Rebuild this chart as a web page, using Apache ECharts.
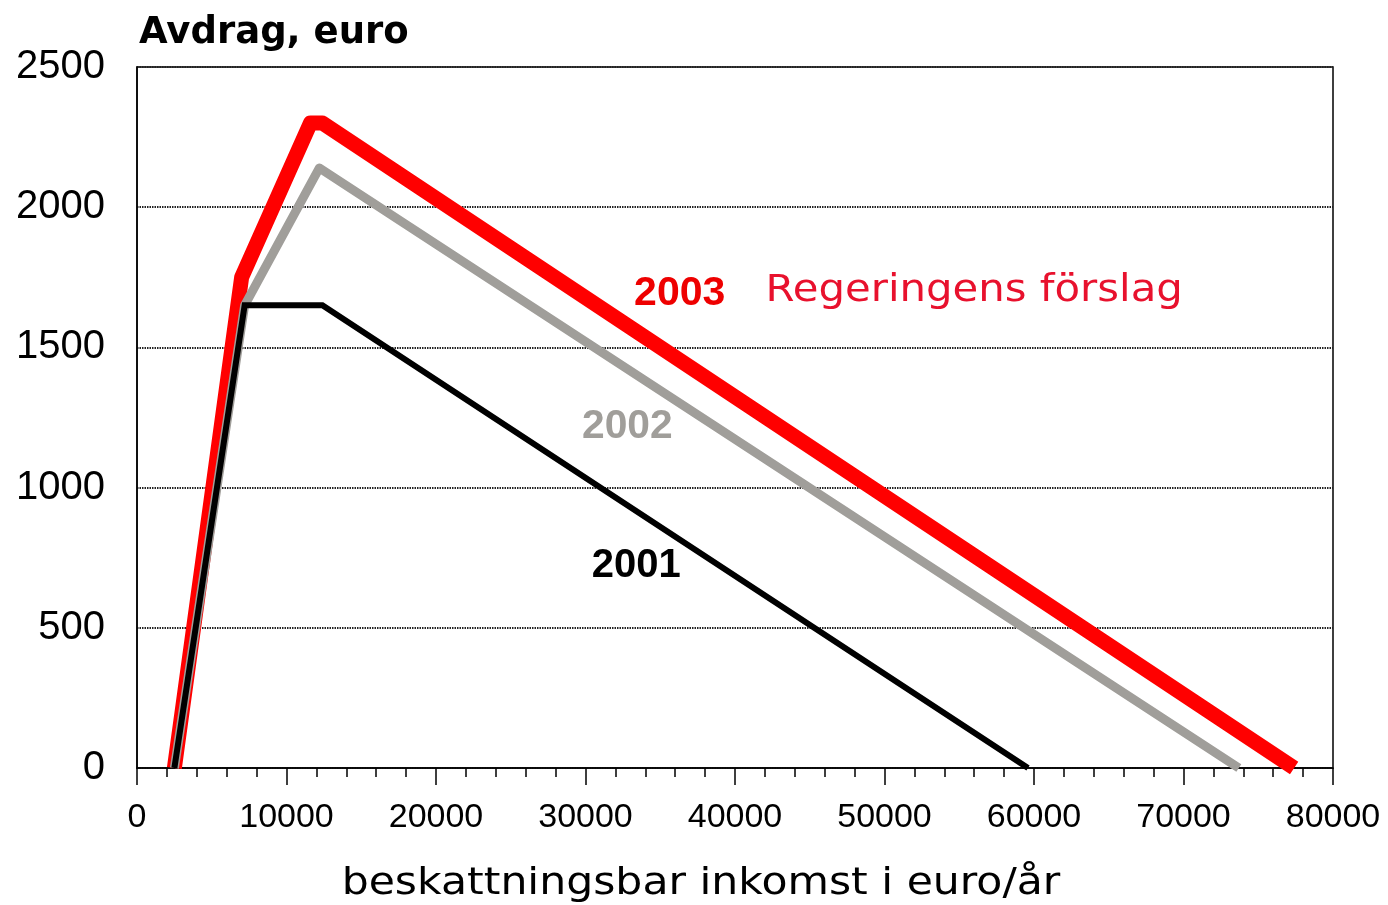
<!DOCTYPE html>
<html>
<head>
<meta charset="utf-8">
<script src="https://cdn.jsdelivr.net/npm/echarts@6/dist/echarts.min.js"></script>
<style>
  html, body { margin: 0; padding: 0; background: #fff; }
  #chart { width: 1388px; height: 905px; }
</style>
</head>
<body>
<div id="chart"></div>
<script>
// break points of each year's curve: [income, deduction]
const line2001 = [[2500, 0], [7200, 1650], [12400, 1650], [59600, 0]];
const line2002 = [[2500, 0], [7200, 1650], [12200, 2140], [73700, 0]];
const line2003 = [[2500, 0], [7000, 1750], [11600, 2300], [12400, 2300], [77400, 0]];

// text labels placed in data units
const labelTexts = ['2003', 'Regeringens förslag', '2002', '2001'];
const labelX = [36300, 56000, 32800, 33400];
const labelY = [1690, 1700, 1218, 722];

const yTicks = [0, 500, 1000, 1500, 2000, 2500];
const xTicks = [0, 10000, 20000, 30000, 40000, 50000, 60000, 70000, 80000];

const labelStyles = [
  { fill: '#ee0000', fontFamily: 'Liberation Sans', fontWeight: 'bold', fontSize: 41, scaleX: 1 },
  { fill: '#e8112d', fontFamily: 'DejaVu Sans', fontWeight: 'normal', fontSize: 37, scaleX: 1.13 },
  { fill: '#a09e9a', fontFamily: 'Liberation Sans', fontWeight: 'bold', fontSize: 40, scaleX: 1.02 },
  { fill: '#000', fontFamily: 'Liberation Sans', fontWeight: 'bold', fontSize: 40, scaleX: 1 }
];

const chart = echarts.init(document.getElementById('chart'));

const option = {
  animation: false,
  title: {
    text: 'Avdrag, euro',
    left: 134,
    top: 10,
    textStyle: { fontFamily: 'DejaVu Sans', fontWeight: 'bold', fontSize: 37, color: '#000' }
  },
  grid: {
    left: 137, right: 55, top: 67, bottom: 137,
    show: true, borderColor: '#000', borderWidth: 1.5, backgroundColor: '#fff'
  },
  xAxis: {
    type: 'value',
    min: xTicks[0], max: xTicks[xTicks.length - 1], interval: 10000,
    axisLine: { show: true, lineStyle: { color: '#000', width: 1.5 } },
    axisTick: { show: true, inside: false, length: 17, lineStyle: { color: '#000', width: 1.5 } },
    minorTick: { show: true, splitNumber: 5, length: 9, lineStyle: { color: '#000', width: 1.5 } },
    axisLabel: { fontFamily: 'Liberation Sans', fontSize: 34, color: '#000', margin: 33, formatter: v => String(v) },
    splitLine: { show: false }
  },
  yAxis: {
    type: 'value',
    min: yTicks[0], max: yTicks[yTicks.length - 1], interval: 500,
    axisLine: { show: true, lineStyle: { color: '#000', width: 1.5 } },
    axisTick: { show: false },
    axisLabel: { fontFamily: 'Liberation Sans', fontSize: 40, color: '#000', margin: 32, formatter: v => String(v) },
    splitLine: { show: true, lineStyle: { color: '#222', width: 2, type: [1.5, 1] } }
  },
  series: [
    {
      name: '2002', type: 'line', data: line2002, symbol: 'none', z: 3,
      lineStyle: { color: '#a09e9a', width: 9, join: 'round' }
    },
    {
      name: '2001', type: 'line', data: line2001, symbol: 'none', z: 4,
      lineStyle: { color: '#000', width: 6, join: 'miter' }
    },
    {
      name: '2003', type: 'line', data: line2003, symbol: 'none', z: 2,
      lineStyle: { color: '#ff0000', width: 15, join: 'round' }
    }
  ]
};

chart.setOption(option);

// annotation texts, located through the grid's own scales
const graphics = labelTexts.map((t, i) => {
  const p = chart.convertToPixel({ gridIndex: 0 }, [labelX[i], labelY[i]]);
  const s = labelStyles[i];
  return {
    type: 'text', x: p[0], y: p[1], scaleX: s.scaleX, z: 100,
    style: {
      text: t, fill: s.fill, fontFamily: s.fontFamily, fontWeight: s.fontWeight,
      fontSize: s.fontSize, textAlign: 'center', textVerticalAlign: 'middle'
    }
  };
});
graphics.push({
  type: 'text', x: 701, y: 884, scaleX: 1.12, z: 100,
  style: {
    text: 'beskattningsbar inkomst i euro/år', fill: '#000', fontFamily: 'DejaVu Sans',
    fontSize: 38, textAlign: 'center', textVerticalAlign: 'middle'
  }
});
chart.setOption({ graphic: graphics });
</script>
</body>
</html>
